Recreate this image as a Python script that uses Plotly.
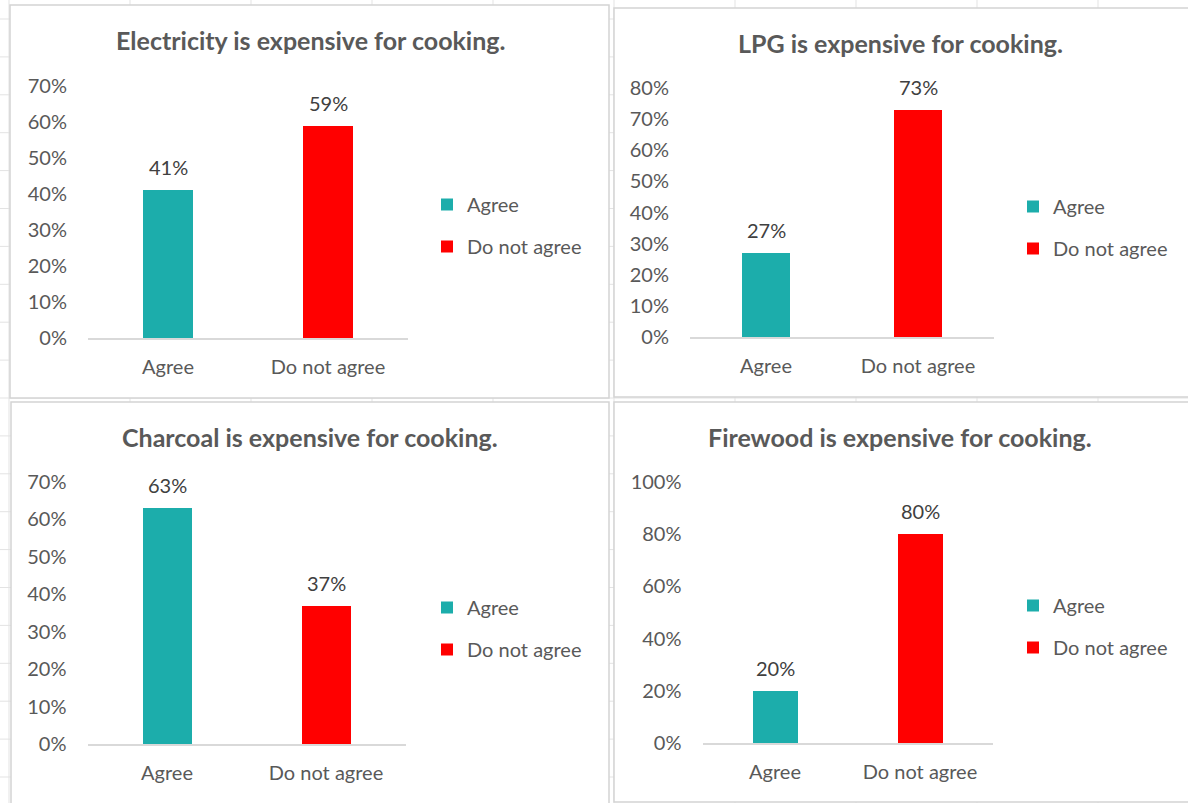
import plotly.graph_objects as go

W, H = 1188, 803

# Survey responses: share of respondents per answer, one panel per fuel
categories = ["Agree", "Do not agree"]
titles = [
    "Electricity is expensive for cooking.",
    "LPG is expensive for cooking.",
    "Charcoal is expensive for cooking.",
    "Firewood is expensive for cooking.",
]
electricity = [0.41, 0.59]
lpg = [0.27, 0.73]
charcoal = [0.63, 0.37]
firewood = [0.20, 0.80]
panel_values = [electricity, lpg, charcoal, firewood]

y_max = [0.7, 0.8, 0.7, 1.0]
y_dtick = [0.1, 0.1, 0.1, 0.2]

colors = ["#1cadab", "#ff0000"]
FONT = "Lato"
GRAY = "#595959"
DARK = "#404040"

# panel frames (pixels): x0, y0, x1, y1
frames = [
    (10, 5, 609, 398),
    (614, 8, 1195, 397),
    (11, 402, 609, 806),
    (614, 402, 1195, 802),
]
# plot areas (pixels): x0, x1, y_top, y_bottom
plots = [
    (88, 408, 86, 338),
    (690, 994, 88, 337),
    (87.5, 405.5, 482, 744),
    (702.5, 992.5, 482, 743),
]
title_centers = [(310, 40), (900, 43), (310, 437), (900, 437)]
legend_pos = [(427, 185), (1013, 187), (427, 588), (1013, 586)]


def px(x):
    return x / W


def py(y):
    return 1 - y / H


fig = go.Figure()
shapes = []
annotations = []

# spreadsheet cell grid behind the chart panels
col_lines = [9 + 121 * k for k in range(10)]
row_lines = [19 + 37.9 * k for k in range(21)]
for cx in col_lines:
    shapes.append(dict(type="line", xref="paper", yref="paper",
                       x0=px(cx), x1=px(cx), y0=0, y1=1,
                       line=dict(color="#e3e3e3", width=1), layer="below"))
for ry in row_lines:
    shapes.append(dict(type="line", xref="paper", yref="paper",
                       x0=0, x1=1, y0=py(ry), y1=py(ry),
                       line=dict(color="#e3e3e3", width=1), layer="below"))
for (x0, y0, x1, y1) in frames:
    shapes.append(dict(type="rect", xref="paper", yref="paper",
                       x0=px(x0), x1=px(x1), y0=py(y1), y1=py(y0),
                       fillcolor="white",
                       line=dict(color="#d4d4d4", width=1.5), layer="below"))

layout_axes = {}
for i, vals in enumerate(panel_values):
    n = "" if i == 0 else str(i + 1)
    xa, ya = "x" + n, "y" + n
    leg = "legend" + n
    for j, cat in enumerate(categories):
        fig.add_trace(go.Bar(
            x=[cat], y=[vals[j]], name=cat,
            marker=dict(color=colors[j], line=dict(width=0)),
            width=0.31, xaxis=xa, yaxis=ya,
            legend=leg, legendgroup=f"{i}-{cat}",
            hoverinfo="skip",
        ))
        annotations.append(dict(
            x=cat, y=vals[j], xref=xa, yref=ya,
            text=f"{round(vals[j] * 100)}%", showarrow=False,
            yanchor="bottom", yshift=9,
            font=dict(family=FONT, size=20, color=DARK),
        ))
    x0, x1, yt, yb = plots[i]
    layout_axes["xaxis" + n] = dict(
        domain=[px(x0), px(x1)], range=[-0.5, 1.5],
        type="category", categoryarray=categories,
        showline=True, linecolor="#d9d9d9", linewidth=1.5,
        showgrid=False, zeroline=False, ticks="",
        ticklabelstandoff=10, automargin=False,
        tickfont=dict(family=FONT, size=20, color=GRAY),
        anchor=ya, fixedrange=True,
    )
    layout_axes["yaxis" + n] = dict(
        domain=[py(yb), py(yt)], range=[0, y_max[i]],
        dtick=y_dtick[i], tick0=0, tickformat=".0%",
        showline=False, showgrid=False, zeroline=False, ticks="",
        ticklabelstandoff=20, automargin=False,
        tickfont=dict(family=FONT, size=20, color=GRAY),
        anchor=xa, fixedrange=True,
    )
    tx, ty = title_centers[i]
    annotations.append(dict(
        x=px(tx), y=py(ty), xref="paper", yref="paper",
        text=f"<b>{titles[i]}</b>", showarrow=False,
        xanchor="center", yanchor="middle",
        font=dict(family=FONT, size=25, color=GRAY),
    ))
    lx, ly = legend_pos[i]
    layout_axes[leg] = dict(
        x=px(lx), y=py(ly), xanchor="left", yanchor="top",
        bgcolor="rgba(0,0,0,0)", traceorder="grouped",
        tracegroupgap=13, itemwidth=30,
        font=dict(family=FONT, size=20, color=GRAY),
    )

fig.update_layout(
    template="none",
    width=W, height=H,
    margin=dict(l=0, r=0, t=0, b=0, autoexpand=False),
    paper_bgcolor="white", plot_bgcolor="rgba(0,0,0,0)",
    barmode="overlay", bargap=0,
    shapes=shapes, annotations=annotations,
    showlegend=True,
    **layout_axes,
)

fig.write_html("out.html", config={"displayModeBar": False})
